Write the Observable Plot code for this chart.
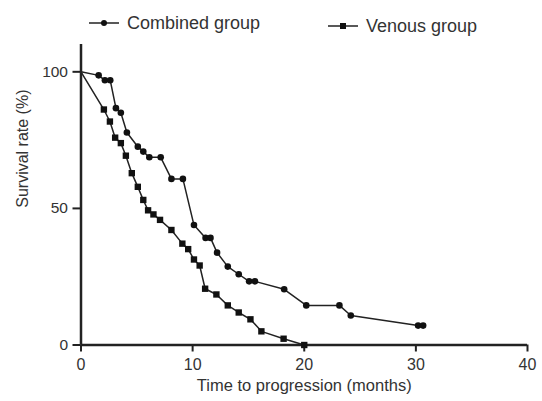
<!DOCTYPE html>
<html>
<head>
<meta charset="utf-8">
<script src="https://cdn.jsdelivr.net/npm/d3@7"></script>
<script src="https://cdn.jsdelivr.net/npm/@observablehq/plot@0.6"></script>
<style>
  html, body { margin: 0; padding: 0; background: #fff; }
  #wrap { position: relative; width: 542px; height: 401px; font-family: "Liberation Sans", Arial, sans-serif; color: #333; }
  #legend { position: absolute; left: 0; top: 0; width: 542px; height: 40px; }
</style>
</head>
<body>
<div id="wrap"><div id="legend"></div></div>
<script>
// Series names
const seriesNames = ["Combined group", "Venous group"];

// Combined group (circles): months, survival %
const combinedMonths = [0, 1.58, 2.14, 2.62, 3.13, 3.57, 4.11, 5.09, 5.58, 6.12, 7.14, 8.1, 9.13, 10.12, 11.16, 11.6, 12.19, 13.15, 14.13, 15.06, 15.58, 18.2, 20.18, 23.15, 24.17, 30.2, 30.65];
const combinedSurvival = [100, 98.7, 96.9, 96.9, 86.7, 85, 77.8, 72.6, 70.8, 68.7, 68.7, 60.8, 60.8, 43.9, 39.2, 39.2, 33.8, 28.7, 25.9, 23.3, 23.3, 20.4, 14.5, 14.5, 10.8, 7.1, 7.1];

// Venous group (squares): months, survival %
const venousMonths = [0, 2.05, 2.59, 3.06, 3.57, 4.02, 4.55, 5.09, 5.58, 6.01, 6.49, 7.08, 8.1, 9.08, 9.6, 10.12, 10.63, 11.12, 12.13, 13.15, 14.13, 15.18, 16.16, 18.15, 20];
const venousSurvival = [100, 86.2, 81.8, 75.9, 73.9, 69.3, 62.9, 57.9, 53.1, 49.3, 47.8, 45.8, 42.1, 37.1, 35.1, 31.3, 29.1, 20.6, 18.5, 14.5, 11.9, 9.4, 5.0, 2.3, 0];

// Axis ticks
const xTicks = [0, 10, 20, 30, 40];
const yTicks = [0, 50, 100];
const xLabel = "Time to progression (months)";
const yLabel = "Survival rate (%)";

const combined = combinedMonths.map((m, i) => ({month: m, survival: combinedSurvival[i]}));
const venous = venousMonths.map((m, i) => ({month: m, survival: venousSurvival[i]}));

const ink = "#222";

const chart = Plot.plot({
  width: 542,
  height: 401,
  marginLeft: 80.5,
  marginRight: 15,
  marginTop: 44,
  marginBottom: 56.5,
  style: {fontFamily: "'Liberation Sans', Arial, sans-serif", color: "#333", background: "transparent", overflow: "visible"},
  x: {domain: [0, 40]},
  y: {domain: [0, 110]},
  marks: [
    Plot.axisX({ticks: xTicks, tickSize: 7, tickPadding: 7, fontSize: 16, label: null, stroke: ink, strokeWidth: 2, fill: "#333"}),
    Plot.axisY({ticks: yTicks, tickSize: 8, tickPadding: 5, fontSize: 15.5, label: null, stroke: ink, strokeWidth: 2, fill: "#333"}),
    Plot.ruleY([0], {stroke: ink, strokeWidth: 2.5}),
    Plot.ruleX([0], {stroke: ink, strokeWidth: 2.5}),
    Plot.text([xLabel], {frameAnchor: "bottom", dy: 46, fontSize: 16.5, fill: "#333"}),
    Plot.text([yLabel], {frameAnchor: "left", rotate: -90, dx: -58, dy: 13, fontSize: 16, fill: "#333"}),
    Plot.line(combined, {x: "month", y: "survival", stroke: ink, strokeWidth: 1.5}),
    Plot.dot(combined.slice(1), {x: "month", y: "survival", r: 3.3, fill: "#111", stroke: "none"}),
    Plot.line(venous, {x: "month", y: "survival", stroke: ink, strokeWidth: 1.5}),
    Plot.dot(venous.slice(1), {x: "month", y: "survival", symbol: "square", r: 3.6, fill: "#111", stroke: "none"})
  ]
});
document.getElementById("wrap").appendChild(chart);

// Legend
const legend = d3.select("#legend").append("svg").attr("width", 542).attr("height", 40);
const items = [
  {name: seriesNames[0], x: 89, y: 23, symbol: "circle"},
  {name: seriesNames[1], x: 328, y: 26, symbol: "square"}
];
items.forEach(it => {
  const g = legend.append("g");
  g.append("line").attr("x1", it.x).attr("x2", it.x + 30).attr("y1", it.y).attr("y2", it.y).attr("stroke", ink).attr("stroke-width", 1.5);
  if (it.symbol === "circle") {
    g.append("circle").attr("cx", it.x + 15).attr("cy", it.y).attr("r", 3).attr("fill", "#111");
  } else {
    g.append("rect").attr("x", it.x + 12).attr("y", it.y - 3).attr("width", 6).attr("height", 6).attr("fill", "#111");
  }
  g.append("text").attr("x", it.x + 38).attr("y", it.y).attr("dy", "0.35em")
    .attr("font-size", 18).attr("fill", "#333")
    .attr("font-family", "'Liberation Sans', Arial, sans-serif")
    .text(it.name);
});
</script>
</body>
</html>
